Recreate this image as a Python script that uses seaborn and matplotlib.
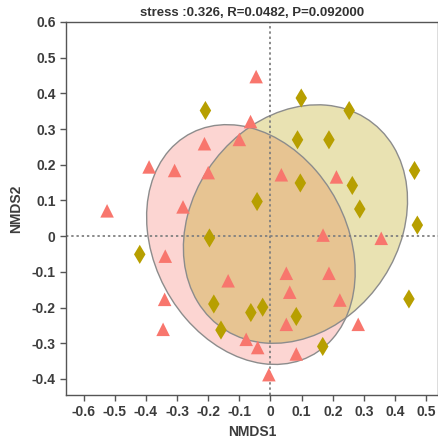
import numpy as np
import pandas as pd
import seaborn as sns
import matplotlib
matplotlib.use("Agg")
import matplotlib.pyplot as plt
from matplotlib.patches import Ellipse

# NMDS scores
tri_x = [-0.046, -0.064, -0.100, -0.212, -0.390, -0.308, -0.200, -0.281, -0.525,
         0.035, 0.212, 0.169, 0.356, 0.051, 0.188, 0.062, 0.223, 0.051, 0.282,
         -0.041, 0.083, -0.005, -0.338, -0.136, -0.340, -0.345, -0.078]
tri_y = [0.447, 0.321, 0.271, 0.259, 0.194, 0.184, 0.178, 0.082, 0.071,
         0.172, 0.166, 0.003, -0.006, -0.104, -0.104, -0.157, -0.179, -0.247, -0.247,
         -0.312, -0.330, -0.388, -0.056, -0.125, -0.177, -0.261, -0.289]
dia_x = [-0.209, 0.099, 0.253, 0.087, 0.188, 0.463, 0.096, 0.263, -0.043, 0.287,
         0.472, -0.196, -0.420, 0.445, -0.025, -0.063, 0.083, 0.168, -0.182, -0.159]
dia_y = [0.352, 0.387, 0.352, 0.270, 0.270, 0.184, 0.149, 0.142, 0.097, 0.076,
         0.031, -0.005, -0.051, -0.176, -0.199, -0.214, -0.225, -0.309, -0.190, -0.263]

groups = ["A", "B"]
colors = {"A": "#F8766D", "B": "#B79F00"}
markers = {"A": "^", "B": "d"}
title = "stress :0.326, R=0.0482, P=0.092000"

df = pd.DataFrame({
    "NMDS1": tri_x + dia_x,
    "NMDS2": tri_y + dia_y,
    "group": ["A"] * len(tri_x) + ["B"] * len(dia_x),
})

plt.rcParams["font.family"] = ["Liberation Sans", "DejaVu Sans"]
fig = plt.figure(figsize=(4.39, 4.41), dpi=100)
ax = fig.add_axes([66 / 439, 1 - 395 / 441, 372.5 / 439, 373 / 441])

# covariance ellipses around each group's centroid
level = 0.66
k = np.sqrt(-2 * np.log(1 - level))
for g in groups:
    sub = df[df["group"] == g]
    cov = np.cov(sub["NMDS1"], sub["NMDS2"])
    vals, vecs = np.linalg.eigh(cov)
    order = vals.argsort()[::-1]
    vals, vecs = vals[order], vecs[:, order]
    angle = np.degrees(np.arctan2(vecs[1, 0], vecs[0, 0]))
    ell = Ellipse((sub["NMDS1"].mean(), sub["NMDS2"].mean()),
                  2 * k * np.sqrt(vals[0]), 2 * k * np.sqrt(vals[1]), angle=angle,
                  facecolor=colors[g], alpha=0.3, edgecolor="none", zorder=1)
    ax.add_patch(ell)
    edge = Ellipse((sub["NMDS1"].mean(), sub["NMDS2"].mean()),
                   2 * k * np.sqrt(vals[0]), 2 * k * np.sqrt(vals[1]), angle=angle,
                   facecolor="none", edgecolor="#8c8c8c", lw=1.0, zorder=1.5)
    ax.add_patch(edge)

ax.axhline(0, color="#808080", lw=1.3, ls=(0, (1.3, 1.6)), zorder=2)
ax.axvline(0, color="#808080", lw=1.3, ls=(0, (1.3, 1.6)), zorder=2)

sns.scatterplot(data=df, x="NMDS1", y="NMDS2", hue="group", style="group",
                palette=colors, markers=markers, s=95, linewidth=0,
                legend=False, ax=ax, zorder=3)

ax.set_xlim(-0.657, 0.54)
ax.set_ylim(-0.445, 0.6)
ax.set_xticks(np.round(np.arange(-0.6, 0.51, 0.1), 1))
ax.set_yticks(np.round(np.arange(-0.4, 0.61, 0.1), 1))
ax.set_xticklabels(["0" if abs(v) < 1e-9 else f"{v:g}" for v in ax.get_xticks()])
ax.set_yticklabels(["0" if abs(v) < 1e-9 else f"{v:g}" for v in ax.get_yticks()])

for side in ax.spines.values():
    side.set_color("#555555")
    side.set_linewidth(1.0)
ax.tick_params(direction="out", length=4, width=1, color="#555555",
               labelsize=10, labelcolor="#3c3c3c")
for lab in ax.get_xticklabels() + ax.get_yticklabels():
    lab.set_fontweight("bold")

ax.set_xlabel("NMDS1", fontsize=10, fontweight="bold", color="#3c3c3c", labelpad=4)
ax.set_ylabel("NMDS2", fontsize=10, fontweight="bold", color="#3c3c3c", labelpad=6)
ax.set_title(title, fontsize=9.5, fontweight="bold", color="#333333", pad=4)

fig.savefig("out.png", dpi=100)
